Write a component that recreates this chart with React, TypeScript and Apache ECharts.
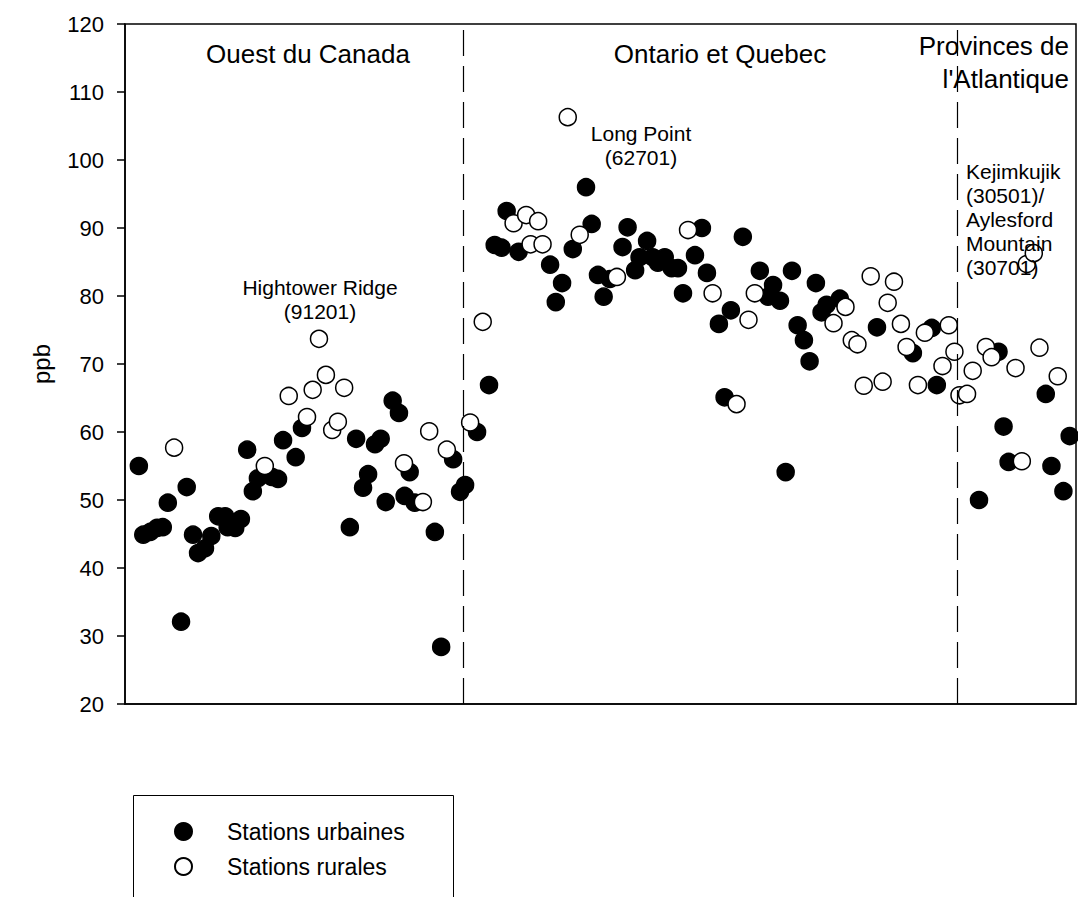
import React, { useEffect, useRef } from "react";
import * as echarts from "echarts";

// Station order index (x) and ozone value in ppb (y)
const urbanX = [
  2.2, 2.9, 4.0, 5.1, 6.0, 6.8, 8.9, 9.8, 10.8, 11.6, 12.7, 13.7, 14.8, 15.9, 16.3, 17.5, 18.4, 19.4, 20.3, 21.1,
  23.3, 24.3, 25.1, 27.1, 28.1, 35.7, 36.7, 37.8, 38.6, 39.7, 40.6, 41.4, 42.5, 43.5, 44.4, 45.2, 46.0, 49.2, 50.2, 52.1,
  53.2, 54.0, 55.9, 57.8, 58.7, 59.8, 60.6, 62.5, 67.5, 68.4, 69.4, 71.1, 73.2, 74.1, 75.1, 76.0, 77.0, 79.0, 79.8, 81.0,
  81.7, 82.9, 83.8, 84.6, 85.7, 86.8, 87.8, 88.6, 90.5, 91.6, 92.4, 94.3, 95.2, 96.2, 98.1, 100.8, 102.1, 102.9, 104.0, 104.9,
  105.9, 106.8, 107.8, 108.7, 109.7, 110.6, 111.4, 113.5, 119.4, 125.1, 128.1, 128.9, 135.6, 138.7, 139.5, 140.3, 146.2, 147.1, 149.0, 150.0,
];
const urbanY = [
  55.0, 44.9, 45.3, 45.9, 46.0, 49.6, 32.1, 51.9, 44.9, 42.2, 42.9, 44.7, 47.6, 47.6, 46.0, 45.9, 47.2, 57.4, 51.3, 53.2,
  53.4, 53.1, 58.8, 56.3, 60.6, 46.0, 59.0, 51.8, 53.8, 58.2, 59.0, 49.7, 64.6, 62.8, 50.6, 54.1, 49.6, 45.3, 28.4, 56.0,
  51.2, 52.2, 60.0, 66.9, 87.5, 87.1, 92.5, 86.5, 84.6, 79.1, 81.9, 86.9, 96.0, 90.6, 83.1, 79.9, 82.5, 87.2, 90.1, 83.8,
  85.7, 88.1, 85.7, 84.9, 85.7, 84.1, 84.1, 80.4, 86.0, 90.0, 83.4, 75.9, 65.1, 77.9, 88.7, 83.7, 79.9, 81.6, 79.3, 54.1,
  83.7, 75.7, 73.5, 70.4, 81.9, 77.6, 78.7, 79.6, 75.4, 71.6, 75.3, 66.9, 50.0, 71.8, 60.8, 55.6, 65.6, 55.0, 51.3, 59.4,
];
const ruralX = [
  7.8, 22.2, 26.0, 28.9, 29.8, 30.8, 31.9, 32.9, 33.8, 34.8, 44.3, 47.3, 48.3, 51.1,
  54.8, 56.8, 61.7, 63.7, 64.4, 65.6, 66.3, 70.3, 72.2, 78.1, 89.4, 93.3, 97.1, 99.0, 100.0,
  112.5, 114.4, 115.4, 116.3, 117.3, 118.4, 120.3, 121.1, 122.1, 123.2, 124.1, 125.9, 127.0, 129.8, 130.8, 131.7,
  132.5, 133.7, 134.6, 136.7, 137.6, 141.4, 142.4, 143.2, 144.3, 145.2, 148.1,
];
const ruralY = [
  57.7, 55.0, 65.3, 62.2, 66.2, 73.7, 68.4, 60.3, 61.5, 66.5, 55.4, 49.7, 60.1, 57.4,
  61.4, 76.2, 90.7, 91.9, 87.6, 91.0, 87.6, 106.3, 89.0, 82.8, 89.7, 80.4, 64.1, 76.5, 80.4,
  76.0, 78.4, 73.5, 72.9, 66.8, 82.9, 67.4, 79.0, 82.1, 75.9, 72.5, 66.9, 74.6, 69.7, 75.7, 71.8,
  65.4, 65.6, 69.0, 72.5, 71.0, 69.4, 55.7, 84.7, 86.3, 72.4, 68.2,
];
const regionBoundaries = [53.65, 132.1];
const yTicks = { min: 20, max: 120, interval: 10 };
const xRange = { min: 0, max: 151 };

const FONT = "'Liberation Sans', Arial, Helvetica, sans-serif";

export default function App() {
  const ref = useRef<HTMLDivElement>(null);
  useEffect(() => {
    if (!ref.current) return;
    const chart = echarts.init(ref.current, undefined, { renderer: "svg" });
    const urban = urbanX.map((x, i) => [x, urbanY[i]]);
    const rural = ruralX.map((x, i) => [x, ruralY[i]]);
    const txt = (text: string, x: number, y: number, size: number, align = "center") => ({
      type: "text",
      x,
      y,
      style: { text, fontSize: size, fontFamily: FONT, fill: "#000", align, verticalAlign: "middle" },
      z: 10,
    });
    chart.setOption({
      animation: false,
      textStyle: { fontFamily: FONT },
      grid: {
        left: 125,
        right: 2,
        top: 24,
        bottom: 193,
        show: true,
        borderColor: "#000",
        borderWidth: 1.5,
      },
      xAxis: {
        type: "value",
        min: xRange.min,
        max: xRange.max,
        axisLine: { show: true, lineStyle: { color: "#000", width: 1.5 } },
        axisTick: { show: false },
        axisLabel: { show: false },
        splitLine: { show: false },
      },
      yAxis: {
        type: "value",
        min: yTicks.min,
        max: yTicks.max,
        interval: yTicks.interval,
        name: "ppb",
        nameLocation: "middle",
        nameGap: 72,
        nameRotate: 90,
        nameTextStyle: { fontSize: 24, color: "#000", fontFamily: FONT },
        axisLine: { show: true, lineStyle: { color: "#000", width: 1.5 } },
        axisTick: { show: true, inside: false, length: 8, lineStyle: { color: "#000", width: 1.5 } },
        axisLabel: { fontSize: 22, color: "#000", margin: 21, fontFamily: FONT },
        splitLine: { show: false },
      },
      legend: {
        orient: "vertical",
        left: 169,
        top: 815,
        itemWidth: 17,
        itemHeight: 17,
        itemGap: 12,
        textStyle: { fontSize: 23, color: "#000", fontFamily: FONT, padding: [0, 0, 0, 30] },
        data: ["Stations urbaines", "Stations rurales"],
      },
      series: [
        {
          name: "Stations urbaines",
          type: "scatter",
          symbol: "circle",
          symbolSize: 17,
          data: urban,
          itemStyle: { color: "#000", borderColor: "#000", borderWidth: 1.5, opacity: 1 },
          z: 3,
          markLine: {
            silent: true,
            symbol: "none",
            label: { show: false },
            lineStyle: { color: "#000", width: 1.2, type: [26, 10] },
            data: regionBoundaries.map((v) => ({ xAxis: v })),
          },
        },
        {
          name: "Stations rurales",
          type: "scatter",
          symbol: "circle",
          symbolSize: 17,
          data: rural,
          itemStyle: { color: "#fff", borderColor: "#000", borderWidth: 1.5, opacity: 1 },
          z: 4,
        },
      ],
      graphic: [
        txt("Ouest du Canada", 308, 54, 26),
        txt("Ontario et Quebec", 720, 54, 26),
        txt("Provinces de", 1069, 46, 26, "right"),
        txt("l'Atlantique", 1069, 79, 26, "right"),
        txt("Hightower Ridge", 320, 287, 21),
        txt("(91201)", 320, 311, 21),
        txt("Long Point", 641, 133, 21),
        txt("(62701)", 641, 157, 21),
        txt("Kejimkujik", 966, 171, 21, "left"),
        txt("(30501)/", 966, 195, 21, "left"),
        txt("Aylesford", 966, 219, 21, "left"),
        txt("Mountain", 966, 243, 21, "left"),
        txt("(30701)", 966, 267, 21, "left"),
        {
          type: "rect",
          shape: { x: 133.5, y: 795.5, width: 320, height: 130 },
          style: { fill: "none", stroke: "#000", lineWidth: 1 },
          z: 1,
        },
      ],
    });
    return () => chart.dispose();
  }, []);
  return (
    <div
      ref={ref}
      style={{ position: "fixed", left: 0, top: 0, width: 1078, height: 897, background: "#fff" }}
    />
  );
}
